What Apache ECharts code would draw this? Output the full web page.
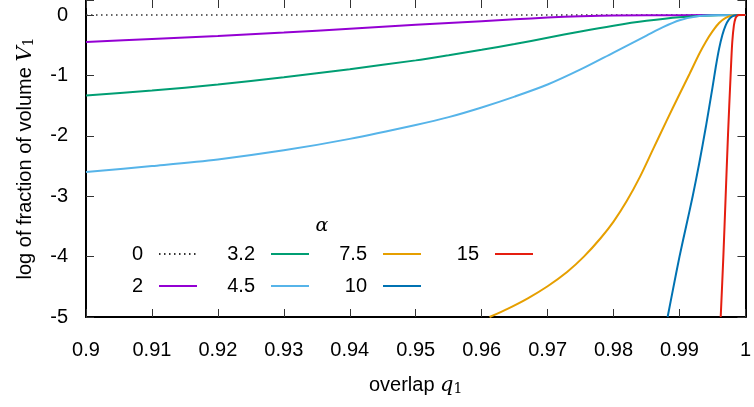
<!DOCTYPE html>
<html>
<head>
<meta charset="utf-8">
<script src="https://cdn.jsdelivr.net/npm/echarts@6/dist/echarts.min.js"></script>
<style>
html,body{margin:0;padding:0;background:#fff;}
#c{width:754px;height:407px;}
</style>
</head>
<body>
<div id="c"></div>
<script>
// ---- data ----
const alphaNames = ['0', '2', '3.2', '4.5', '7.5', '10', '15'];

const q0 = [0.90, 1.00];
const v0 = [0, 0];

const q2 = [0.90, 0.91, 0.92, 0.93, 0.94, 0.95, 0.96, 0.965, 0.97, 0.975, 0.98, 0.99, 1.00];
const v2 = [-0.445, -0.395, -0.345, -0.29, -0.225, -0.16, -0.10, -0.07, -0.04, -0.02, -0.007, -0.001, 0];

const q32 = [0.90, 0.91, 0.92, 0.93, 0.94, 0.95, 0.955, 0.96, 0.965, 0.97, 0.975, 0.98, 0.985, 0.99, 0.995, 1.00];
const v32 = [-1.33, -1.25, -1.15, -1.03, -0.895, -0.75, -0.665, -0.575, -0.48, -0.375, -0.27, -0.175, -0.095, -0.035, -0.006, 0];

const q45 = [0.90, 0.91, 0.92, 0.93, 0.94, 0.95, 0.955, 0.96, 0.965, 0.97, 0.975, 0.98, 0.9825, 0.985, 0.9875, 0.99, 0.9925, 0.995, 1.00];
const v45 = [-2.60, -2.50, -2.39, -2.24, -2.05, -1.82, -1.69, -1.53, -1.35, -1.15, -0.90, -0.62, -0.48, -0.34, -0.20, -0.085, -0.022, -0.003, 0];

const q75 = [0.9612, 0.964, 0.967, 0.970, 0.973, 0.9755, 0.978, 0.980, 0.982, 0.984, 0.986, 0.988, 0.990, 0.9915, 0.993, 0.994, 0.995, 0.996, 0.997, 0.998, 0.999, 1.00];
const v75 = [-5.0, -4.86, -4.69, -4.49, -4.25, -4.0, -3.70, -3.42, -3.08, -2.68, -2.22, -1.76, -1.31, -0.98, -0.64, -0.44, -0.27, -0.13, -0.045, -0.008, 0, 0];

const q10 = [0.9882, 0.989, 0.990, 0.991, 0.992, 0.993, 0.994, 0.995, 0.9955, 0.996, 0.9965, 0.997, 0.9975, 0.998, 0.9985, 0.999, 1.00];
const v10 = [-5.0, -4.55, -4.0, -3.5, -3.0, -2.45, -1.85, -1.2, -0.86, -0.56, -0.33, -0.17, -0.07, -0.02, -0.003, 0, 0];

const q15 = [0.99625, 0.99665, 0.997, 0.99735, 0.99775, 0.998, 0.99825, 0.9985, 0.99875, 0.999, 1.00];
const v15 = [-5.0, -4.0, -3.0, -2.0, -1.0, -0.45, -0.17, -0.05, -0.01, 0, 0];

const legendRow1 = ['0', '3.2', '7.5', '15'];
const legendRow2 = ['2', '4.5', '10'];
const xRange = [0.9, 1.0];
const xStep = 0.01;
const yRange = [-5, 0.25];
const yStep = 1;

// ---- styling ----
const FONT = '"Liberation Sans", Arial, sans-serif';
const SERIF = '"DejaVu Serif", "Liberation Serif", serif';
const colors = ['#333333', '#9400D3', '#009E73', '#56B4E9', '#E69F00', '#0072B2', '#E51E10'];
const qs = [q0, q2, q32, q45, q75, q10, q15];
const vs = [v0, v2, v32, v45, v75, v10, v15];

const series = alphaNames.map((name, k) => ({
  name: name,
  type: 'line',
  data: qs[k].map((q, i) => [q, vs[k][i]]),
  symbol: 'none',
  showSymbol: false,
  smooth: k === 0 ? false : 0.3,
  clip: true,
  lineStyle: k === 0
    ? { color: colors[k], width: 1.5, type: [1.5, 3.5] }
    : { color: colors[k], width: 2 },
  itemStyle: { color: colors[k] }
}));

const chart = echarts.init(document.getElementById('c'), null, { renderer: 'canvas' });

const tickStyle = { show: true, inside: true, length: 8, lineStyle: { color: '#333', width: 1 } };

const legendBase = {
  orient: 'horizontal', left: 103, padding: 0,
  itemGap: 17, itemWidth: 38, itemHeight: 15, align: 'right',
  selectedMode: false,
  itemStyle: { opacity: 0 },
  textStyle: { fontSize: 20, color: '#000', fontFamily: FONT, width: 40, lineHeight: 15, padding: [0, 11, 0, 0] }
};

chart.setOption({
  animation: false,
  backgroundColor: '#fff',
  grid: { left: 86, right: 5, top: -2, bottom: 90, containLabel: false },
  xAxis: [{
    type: 'value', min: xRange[0], max: xRange[1], interval: xStep, position: 'bottom',
    axisLine: { show: true, onZero: false, lineStyle: { color: '#000', width: 2 } },
    axisTick: tickStyle,
    axisLabel: { margin: 23, fontSize: 20, color: '#000', fontFamily: FONT },
    splitLine: { show: false },
    name: 'overlap {q|q}{s|1}', nameLocation: 'middle', nameGap: 58,
    nameTextStyle: {
      fontSize: 20, color: '#000', fontFamily: FONT,
      rich: {
        q: { fontFamily: SERIF, fontStyle: 'italic', fontSize: 21, color: '#000' },
        s: { fontFamily: SERIF, fontSize: 14, verticalAlign: 'bottom', lineHeight: 10, color: '#000' }
      }
    }
  }, {
    type: 'value', min: xRange[0], max: xRange[1], interval: xStep, position: 'top',
    axisLine: { show: false, onZero: false },
    axisTick: tickStyle,
    axisLabel: { show: false },
    splitLine: { show: false }
  }],
  yAxis: [{
    type: 'value', min: yRange[0], max: yRange[1], interval: yStep, position: 'left',
    axisLine: { show: true, onZero: false, lineStyle: { color: '#000', width: 2 } },
    axisTick: tickStyle,
    axisLabel: {
      margin: 18, fontSize: 20, color: '#000', fontFamily: FONT,
      formatter: v => (Math.abs(v - Math.round(v)) < 1e-9 ? String(Math.round(v)) : '')
    },
    splitLine: { show: false },
    name: 'log of fraction of volume {v|V}{s|1}', nameLocation: 'middle', nameGap: 50,
    nameTextStyle: {
      fontSize: 20, color: '#000', fontFamily: FONT,
      rich: {
        v: { fontFamily: SERIF, fontStyle: 'italic', fontSize: 21, color: '#000' },
        s: { fontFamily: SERIF, fontSize: 14, verticalAlign: 'bottom', lineHeight: 10, color: '#000' }
      }
    }
  }, {
    type: 'value', min: yRange[0], max: yRange[1], interval: yStep, position: 'right',
    axisLine: { show: true, onZero: false, lineStyle: { color: '#000', width: 2 } },
    axisTick: tickStyle,
    axisLabel: { show: false },
    splitLine: { show: false }
  }],
  legend: [
    Object.assign({}, legendBase, { data: legendRow1, top: 244 }),
    Object.assign({}, legendBase, { data: legendRow2, top: 276 })
  ],
  graphic: [{
    type: 'text', x: 322, y: 226,
    style: { text: 'α', fontFamily: SERIF, fontStyle: 'italic', fontSize: 19, fill: '#000', align: 'center', verticalAlign: 'middle' }
  }],
  series: series
});
</script>
</body>
</html>
